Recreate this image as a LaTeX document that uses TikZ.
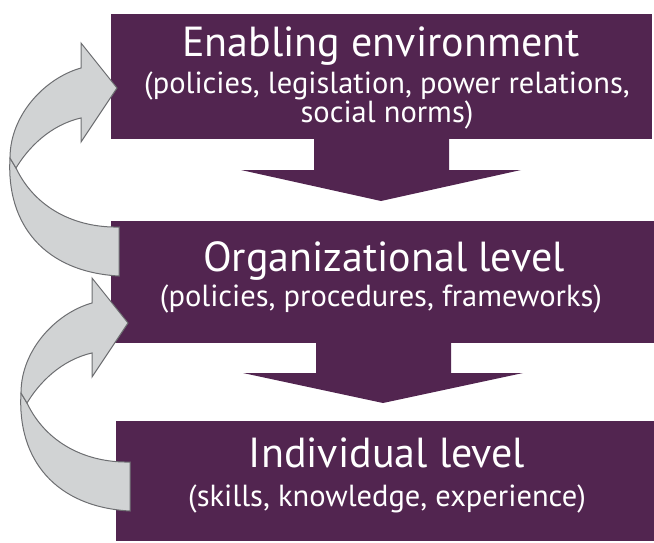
\documentclass[tikz,border=0pt]{standalone}
\usepackage{fontspec}
\setmainfont{PT Sans}
\definecolor{plum}{RGB}{82,37,80}
\definecolor{arrowgray}{RGB}{209,211,212}
\definecolor{edgegray}{RGB}{109,110,113}
\newcommand\feedbackloop[1]{%
  \begin{scope}[shift={#1}]
    \path[loopband] (119,276) .. controls (45,272) and (6,225) .. (10,158)
      -- (16,168) .. controls (35,208) and (75,228) .. (119,227) -- cycle;
    \path[loopband] (10,158) .. controls (10,115) and (45,78) .. (81,68)
      -- (81,43) -- (117,88) -- (81,142) -- (81,118)
      .. controls (50,125) and (28,148) .. (16,168) -- cycle;
  \end{scope}}
\begin{document}
\begin{tikzpicture}[x=1pt,y=-1pt,
  levelbox/.style={fill=plum, draw=none, inner sep=0pt, outer sep=0pt},
  titletext/.style={text=white, font=\fontsize{42}{50}\selectfont, anchor=base, inner sep=0pt},
  subtext/.style={text=white, font=\fontsize{30.5}{24.5}\selectfont, anchor=base, inner sep=0pt},
  downarrow/.style={fill=plum, draw=none},
  loopband/.style={fill=arrowgray, draw=edgegray, line width=1pt, line join=miter}]
\useasboundingbox (0,0) rectangle (654,543);
% boxes
\node[levelbox, minimum width=541pt, minimum height=125pt] (env) at (381.5,76.5) {};
\node[levelbox, minimum width=543pt, minimum height=122pt] (org) at (382.5,282) {};
\node[levelbox, minimum width=538pt, minimum height=120pt] (ind) at (385,481) {};
% texts
\node[titletext] (envt) at (381,57) {Enabling environment};
\node[subtext, align=center] (envs) at (387,123) {(policies, legislation, power relations,\\social norms)};
\node[titletext] (orgt) at (384,271) {Organizational level};
\node[subtext] (orgs) at (381,306) {(policies, procedures, frameworks)};
\node[titletext] (indt) at (387,467) {Individual level};
\node[subtext] (inds) at (387,506) {(skills, knowledge, experience)};
% down arrows
\path[downarrow] (314,139) -- (449,139) -- (449,170) -- (521,170) -- (381,201)
  -- (241,170) -- (314,170) -- cycle;
\path[downarrow] (316,343) -- (451,343) -- (451,373) -- (523,373) -- (383,403)
  -- (243,373) -- (316,373) -- cycle;
% feedback loops
\feedbackloop{(0,0)}
\feedbackloop{(11,235)}
\end{tikzpicture}
\end{document}
